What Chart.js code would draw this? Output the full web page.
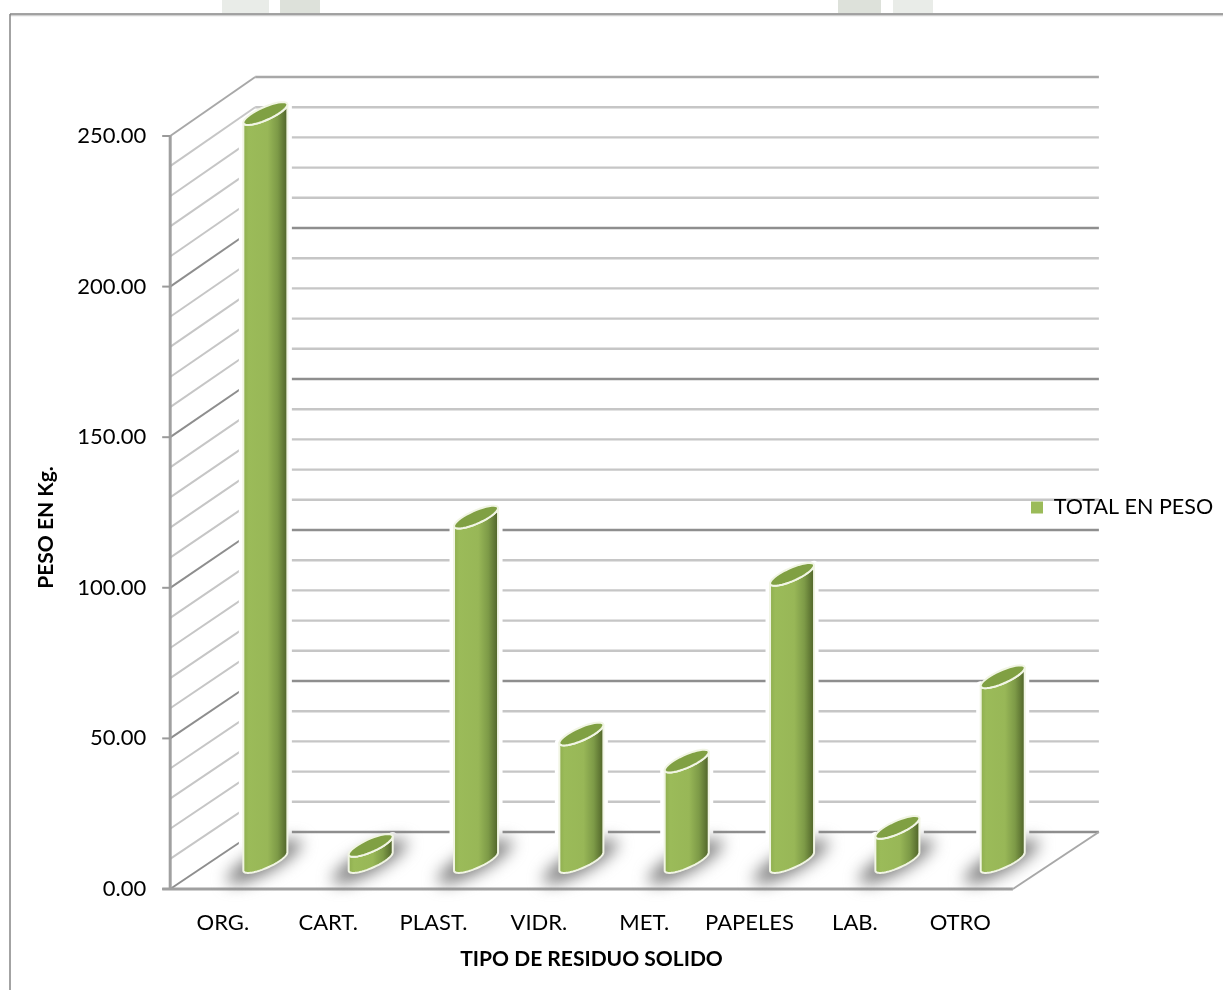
<!DOCTYPE html>
<html lang="es">
<head>
<meta charset="utf-8">
<title>Tipo de residuo solido</title>
<script src="https://cdn.jsdelivr.net/npm/chart.js@4/dist/chart.umd.js"></script>
<style>
  body { margin: 0; background: #fff; }
  canvas { display: block; }
</style>
</head>
<body>
<canvas id="chartResiduos" width="1223" height="990"></canvas>
<script>
// Datos
const categorias = ["ORG.", "CART.", "PLAST.", "VIDR.", "MET.", "PAPELES", "LAB.", "OTRO"];
const pesos = [248, 5, 114, 42, 33, 95, 11, 61];
const lineasMenores = [10, 20, 30, 40, 60, 70, 80, 90, 110, 120, 130, 140, 160, 170, 180, 190, 210, 220, 230, 240];
const lineasMayores = [0, 50, 100, 150, 200, 250];

const verde = "#9bbb59";
const FONDO_X = 85;
const FONDO_Y = 57;

// Barra dibujada como cilindro inclinado, a media profundidad del grafico
class BarraCilindro extends Chart.BarElement {
  draw(ctx) {
    const r = this.width / 2;
    const cx = this.x + FONDO_X / 2;
    const arriba = this.y - FONDO_Y / 2;
    const abajo = this.base - FONDO_Y / 2 + 1;
    const caida = 9;
    const alto = 7;

    const elipse = (cy, inicio, fin) => {
      const pasos = 40;
      for (let i = 0; i <= pasos; i++) {
        const t = inicio + ((fin - inicio) * i) / pasos;
        ctx.lineTo(cx + r * Math.cos(t), cy - caida * Math.cos(t) + alto * Math.sin(t));
      }
    };
    const cuerpo = () => {
      ctx.beginPath();
      elipse(abajo, Math.PI, 0);
      elipse(arriba, 0, Math.PI);
      ctx.closePath();
    };

    ctx.save();
    ctx.lineJoin = "round";

    // halo blanco que corta las lineas del fondo
    cuerpo();
    ctx.strokeStyle = "#fff";
    ctx.lineWidth = 9;
    ctx.stroke();

    // sombra sobre el piso
    ctx.save();
    ctx.filter = "blur(8px)";
    ctx.fillStyle = "#7c7c7c";
    ctx.beginPath();
    ctx.ellipse(cx - 1, abajo, 42, 11, -0.5, 0, Math.PI * 2);
    ctx.fill();
    ctx.restore();

    // cuerpo
    cuerpo();
    const grad = ctx.createLinearGradient(cx - r, 0, cx + r, 0);
    grad.addColorStop(0, "#8fae50");
    grad.addColorStop(0.12, "#9bbb59");
    grad.addColorStop(0.55, "#98b757");
    grad.addColorStop(0.78, "#7d9a47");
    grad.addColorStop(1, "#4f6329");
    ctx.fillStyle = grad;
    ctx.fill();
    ctx.strokeStyle = "#f1f5e4";
    ctx.lineWidth = 2;
    ctx.stroke();

    // tapa
    ctx.beginPath();
    elipse(arriba, 0, Math.PI * 2);
    ctx.closePath();
    ctx.fillStyle = "#80a043";
    ctx.fill();
    ctx.stroke();
    ctx.restore();
  }
}
BarraCilindro.id = "cilindro";
BarraCilindro.defaults = Chart.BarElement.defaults;
Chart.register(BarraCilindro);

class ControladorCilindro extends Chart.BarController {}
ControladorCilindro.id = "cilindro";
ControladorCilindro.defaults = { ...Chart.BarController.defaults, dataElementType: "cilindro" };
ControladorCilindro.overrides = Chart.BarController.overrides;
Chart.register(ControladorCilindro);

// Paredes, piso y marco
const planos = {
  id: "planos",
  afterLayout(chart) {
    const leyenda = chart.legend;
    leyenda.left = 1019;
    leyenda.right = 1223;
    leyenda.top -= 5;
    leyenda.bottom -= 5;

    // el titulo del eje Y va algo mas abajo que el centro del eje
    const y = chart.scales.y;
    const drawTitle = y.drawTitle;
    y.drawTitle = function () {
      chart.ctx.save();
      chart.ctx.translate(0, 15);
      drawTitle.call(this);
      chart.ctx.restore();
    };
  },
  beforeDraw(chart) {
    const { ctx, chartArea: a, scales } = chart;
    const y = scales.y;
    const linea = (x1, y1, x2, y2, color, ancho) => {
      ctx.strokeStyle = color;
      ctx.lineWidth = ancho;
      ctx.beginPath();
      ctx.moveTo(x1, y1);
      ctx.lineTo(x2, y2);
      ctx.stroke();
    };
    const fondo = (v) => y.getPixelForValue(v) - FONDO_Y - v * 0.008;
    const dibuja = (v, color) => {
      const py = y.getPixelForValue(v);
      linea(a.left, py, a.left + FONDO_X, fondo(v), color, 2);
      linea(a.left + FONDO_X, fondo(v), a.right + FONDO_X + 1, fondo(v), color, 2.4);
    };
    ctx.save();
    // restos de la pagina escaneada sobre el marco
    ctx.fillStyle = "#e9ece8";
    ctx.fillRect(222, 0, 47, 13);
    ctx.fillRect(893, 0, 40, 13);
    ctx.fillStyle = "#dde1da";
    ctx.fillRect(280, 0, 40, 13);
    ctx.fillRect(838, 0, 43, 13);

    lineasMenores.forEach((v) => dibuja(v, "#c6c6c6"));
    lineasMayores.forEach((v) => dibuja(v, v === 250 ? "#a8a8a8" : "#8e8e8e"));
    // ejes frontales
    linea(a.left, a.top, a.left, a.bottom, "#a0a0a0", 3);
    lineasMayores.forEach((v) => {
      const py = y.getPixelForValue(v);
      linea(a.left - 8, py, a.left, py, "#9a9a9a", 2);
    });
    linea(a.left - 8, a.bottom, a.right, a.bottom, "#a0a0a0", 3);
    linea(a.right, a.bottom, a.right + FONDO_X + 1, fondo(0), "#a8a8a8", 2);
    // marco
    linea(10, 15.5, 1223, 15.5, "#d0d0d0", 1.5);
    linea(10, 14, 1223, 14, "#858585", 1.5);
    linea(10, 14, 10, 990, "#858585", 1.5);
    ctx.restore();
  },
};

document.addEventListener("DOMContentLoaded", () => {
  new Chart(document.getElementById("chartResiduos").getContext("2d"), {
    type: "cilindro",
    data: {
      labels: categorias,
      datasets: [
        {
          label: "TOTAL EN PESO",
          data: pesos,
          backgroundColor: verde,
          categoryPercentage: 1,
          barPercentage: 0.418,
          clip: false,
        },
      ],
    },
    plugins: [planos],
    options: {
      responsive: false,
      animation: false,
      events: [],
      layout: { padding: { top: 136, bottom: 20, left: 34, right: 6 } },
      plugins: {
        tooltip: { enabled: false },
        legend: {
          position: "right",
          fullSize: false,
          labels: {
            boxWidth: 12,
            boxHeight: 12,
            color: "#000",
            font: { family: "Lato", size: 21.5 },
            padding: 12,
          },
        },
      },
      scales: {
        x: {
          grid: { display: false },
          border: { display: false },
          ticks: {
            color: "#000",
            font: { family: "Lato", size: 22, lineHeight: 1 },
            padding: 15,
            maxRotation: 0,
          },
          title: {
            display: true,
            text: "TIPO DE RESIDUO SOLIDO",
            color: "#000",
            font: { family: "Lato", size: 21, weight: "bold", lineHeight: 1 },
            padding: { top: 0, bottom: 0 },
          },
        },
        y: {
          min: 0,
          max: 250,
          grid: { display: false },
          border: { display: false },
          ticks: {
            stepSize: 50,
            color: "#000",
            font: { family: "Lato", size: 22 },
            padding: 16,
            callback: (v) => Number(v).toFixed(2),
          },
          title: {
            display: true,
            text: "PESO EN Kg.",
            color: "#000",
            font: { family: "Lato", size: 21, weight: "bold" },
            padding: { top: 0, bottom: 2 },
          },
        },
      },
    },
  });
});
</script>
</body>
</html>
